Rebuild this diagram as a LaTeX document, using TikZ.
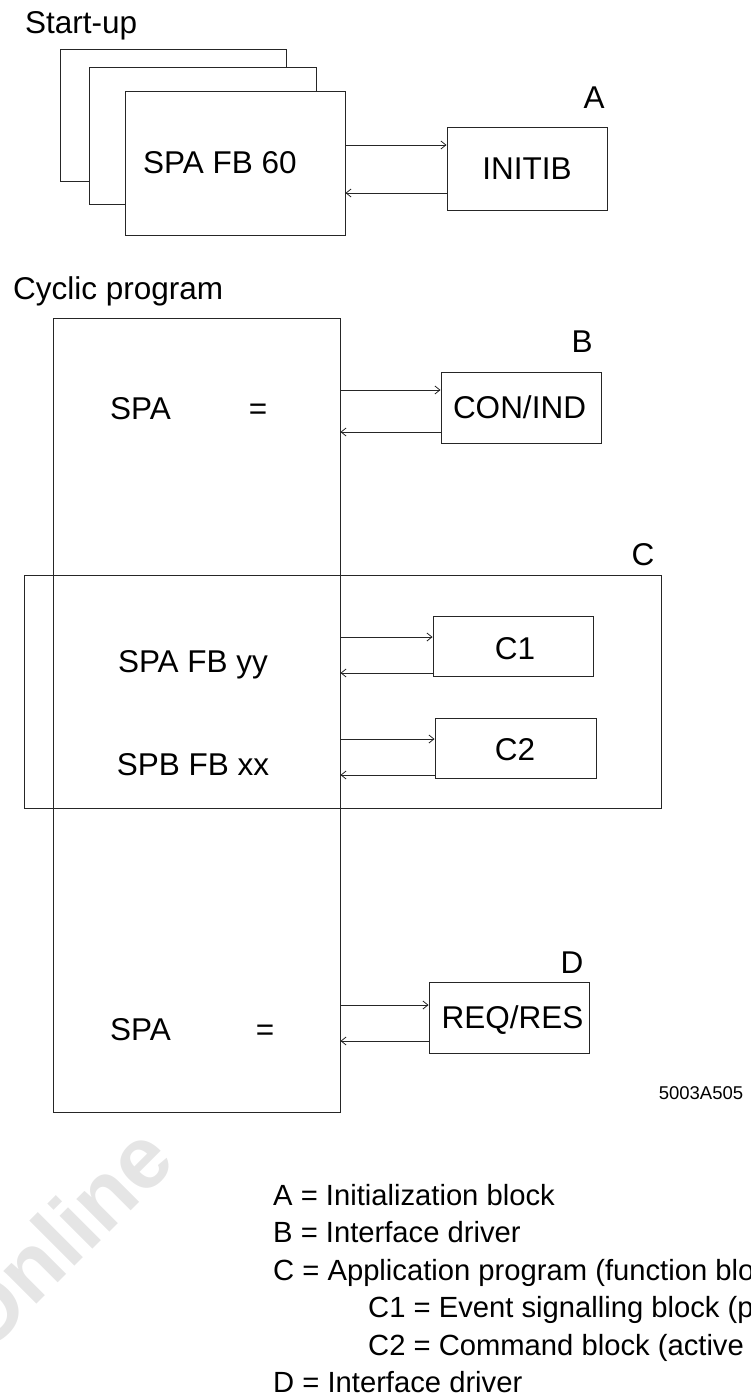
\documentclass[tikz,border=0pt]{standalone}
\usepackage{fontspec}
\setmainfont{Liberation Sans}
\usetikzlibrary{arrows.meta}
\begin{document}
\begin{tikzpicture}[x=1pt,y=-1pt,
  box/.style={draw=black!85,line width=0.9pt,inner sep=0pt,anchor=center},
  lbl/.style={inner sep=0pt,font=\fontsize{31.5}{36}\selectfont},
  leg/.style={inner sep=0pt,anchor=base west,font=\fontsize{29.2}{34}\selectfont},
  conn/.style={draw=black!85,line width=0.8pt,-{Straight Barb[length=5pt,width=8pt]}}]
\useasboundingbox (0,0) rectangle (750,1400);

% faint watermark
\begin{scope}
\clip (0,1140) rectangle (400,1400);
\node[anchor=west,rotate=45,inner sep=0pt,text=black!10,font=\fontsize{88}{90}\bfseries\selectfont] (wm) at (-38,1335) {Online};
\end{scope}

% Start-up
\node[lbl,anchor=base west] (startup) at (25,33) {Start-up};
\node[box,minimum width=226pt,minimum height=132pt] (s1) at (173,115) {};
\node[box,fill=white,minimum width=227pt,minimum height=137pt] (s2) at (202.5,135.5) {};
\node[box,fill=white,minimum width=220pt,minimum height=144pt] (s3) at (235,163) {};
\node[lbl,anchor=base west] (s3t) at (143,173) {SPA FB 60};
\node[box,minimum width=160pt,minimum height=83pt] (initib) at (527,168.5) {};
\node[lbl,anchor=base] (initibt) at (527,179) {INITIB};
\node[lbl,anchor=base] (la) at (594,108) {A};
\coordinate (a1) at (447,145);
\coordinate (a2) at (447,193);
\draw[conn] (s3.east |- a1) -- (initib.west |- a1);
\draw[conn] (initib.west |- a2) -- (s3.east |- a2);

% Cyclic program
\node[lbl,anchor=base west] (cyclic) at (13,299) {Cyclic program};
\node[box,minimum width=287pt,minimum height=794pt] (cyc) at (196.5,715) {};
\node[box,minimum width=637pt,minimum height=233pt] (cbox) at (342.5,691.5) {};
\node[lbl,anchor=base] (lc) at (643,565) {C};

\node[lbl,anchor=base west] (spa1) at (110,419) {SPA};
\node[lbl,anchor=base] (eq1) at (258,419) {=};
\node[box,minimum width=160pt,minimum height=71pt] (conind) at (521,407.5) {};
\node[lbl,anchor=base] (conindt) at (519.5,418) {CON/IND};
\node[lbl,anchor=base] (lb) at (582,352) {B};
\coordinate (b1) at (441,390);
\coordinate (b2) at (441,432);
\draw[conn] (cyc.east |- b1) -- (conind.west |- b1);
\draw[conn] (conind.west |- b2) -- (cyc.east |- b2);

\node[lbl,anchor=base] (fbyy) at (193,672) {SPA FB yy};
\node[lbl,anchor=base] (fbxx) at (193,775) {SPB FB xx};
\node[box,minimum width=160pt,minimum height=60pt] (c1) at (513,646) {};
\node[lbl,anchor=base] (c1t) at (515,659) {C1};
\node[box,minimum width=161pt,minimum height=60pt] (c2) at (515.5,748) {};
\node[lbl,anchor=base] (c2t) at (515,760) {C2};
\coordinate (k1) at (433,637);
\coordinate (k2) at (433,673);
\coordinate (k3) at (435,739);
\coordinate (k4) at (435,775);
\draw[conn] (cyc.east |- k1) -- (c1.west |- k1);
\draw[conn] (c1.west |- k2) -- (cyc.east |- k2);
\draw[conn] (cyc.east |- k3) -- (c2.west |- k3);
\draw[conn] (c2.west |- k4) -- (cyc.east |- k4);

\node[lbl,anchor=base west] (spa2) at (110,1040) {SPA};
\node[lbl,anchor=base] (eq2) at (265,1040) {=};
\node[box,minimum width=160pt,minimum height=71pt] (reqres) at (509,1017.5) {};
\node[lbl,anchor=base] (reqrest) at (512.5,1028) {REQ/RES};
\node[lbl,anchor=base] (ld) at (572,973) {D};
\coordinate (d1) at (429,1005);
\coordinate (d2) at (429,1041);
\draw[conn] (cyc.east |- d1) -- (reqres.west |- d1);
\draw[conn] (reqres.west |- d2) -- (cyc.east |- d2);

\node[inner sep=0pt,font=\fontsize{18.5}{22}\selectfont] (code) at (701,1093) {5003A505};

% legend
\node[leg] (l1) at (273,1205) {A = Initialization block};
\node[leg] (l2) at (273,1242) {B = Interface driver};
\node[leg] (l3) at (273,1280) {C = Application program (function blo};
\node[leg] (l4) at (368,1317) {C1 = Event signalling block (p};
\node[leg] (l5) at (368,1355) {C2 = Command block (active};
\node[leg] (l6) at (273,1392) {D = Interface driver};
\end{tikzpicture}
\end{document}
